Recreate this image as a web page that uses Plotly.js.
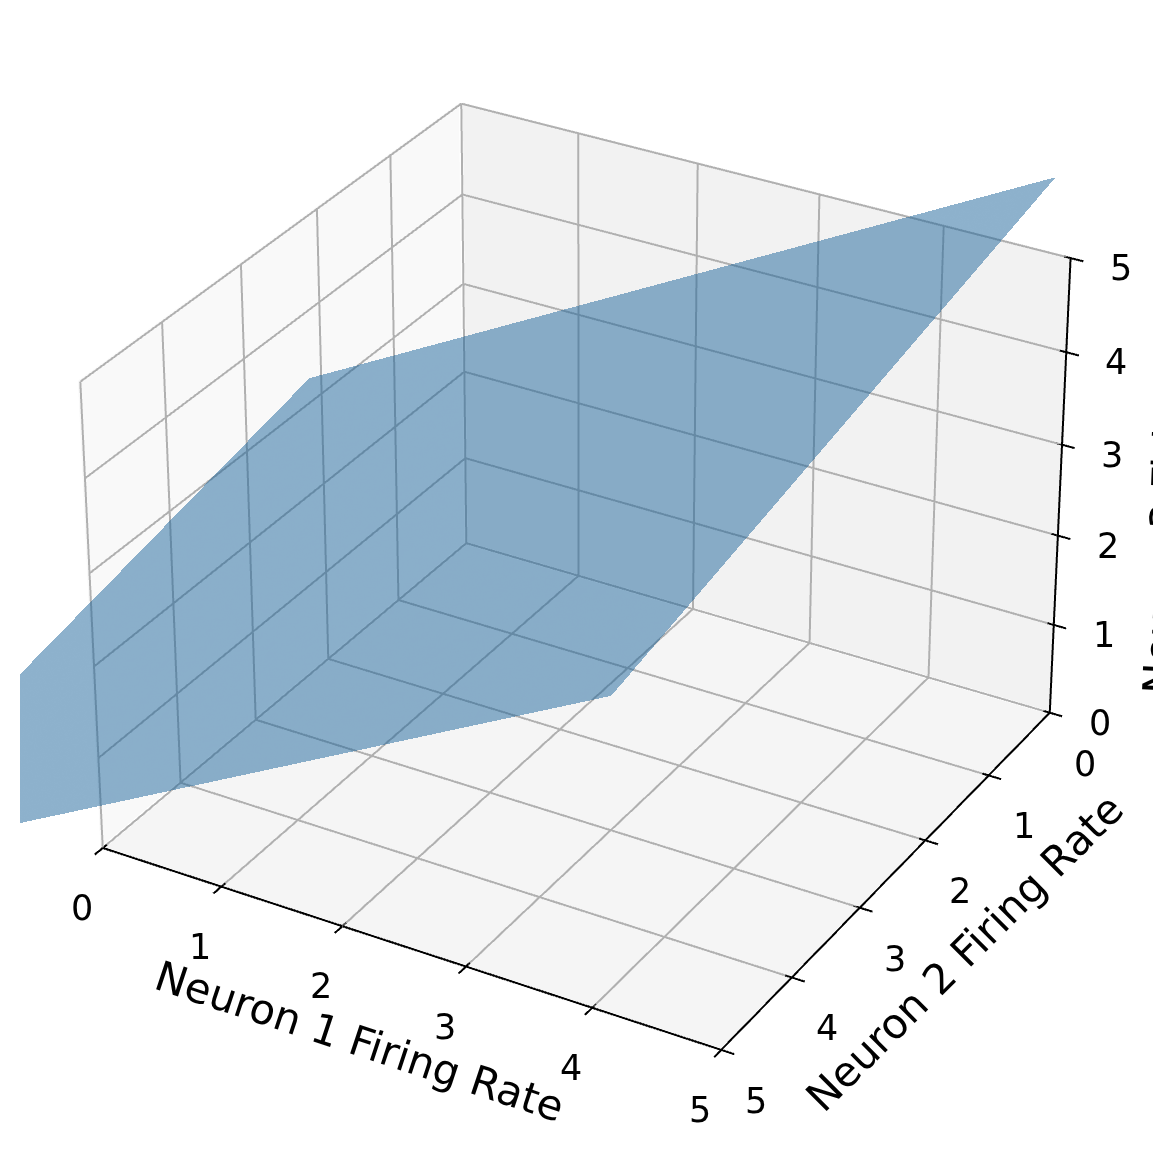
<!DOCTYPE html>
<html><head><meta charset="utf-8">
<script src="https://cdn.plot.ly/plotly-3.0.1.min.js"></script>
<style>
html,body{margin:0;padding:0;background:#fff;overflow:hidden;width:1153px;height:1150px}
#stage{position:absolute;left:20px;top:0;width:1133px;height:1150px;overflow:hidden}
#g{position:absolute}
</style></head><body><div id="stage"><div id="g"></div></div>
<script>
// Values
const tickValues=[0,1,2,3,4,5];
const neuron1=[0.625,6.31];
const neuron2=[3.12,8.80];
const neuron3=[[4.09,8.065],[2.95,6.92]]; // rows follow neuron2, columns follow neuron1
const xTitle='Neuron 1 Firing Rate', yTitle='Neuron 2 Firing Rate', zTitle='Neuron 3 Firing Rate';

const SIZE=4932, CX=585, CY=554;
const el=document.getElementById('g');
el.style.width=SIZE+'px';el.style.height=SIZE+'px';
el.style.left=(CX-20-SIZE/2)+'px';el.style.top=(CY-SIZE/2)+'px';

// Neuron 2 runs from 0 at the back to 5 at the front
const flip=v=>5-v;
const yPlot=neuron2.map(flip).reverse();
const zPlot=neuron3.slice().reverse();
const LO=0,HI=5;
const camera={eye:{x:4.33,y:-7.5,z:5},center:{x:0,y:0,z:0},up:{x:0,y:0,z:1},projection:{type:'perspective'}};
const hidden={visible:false,showspikes:false,range:[-4.5,9.5]};

function lines(segs,color,width){
  const x=[],y=[],z=[];
  segs.forEach(s=>{x.push(s[0],s[3],null);y.push(s[1],s[4],null);z.push(s[2],s[5],null);});
  return {type:'scatter3d',mode:'lines',x,y,z,line:{color,width},hoverinfo:'skip',showlegend:false};
}
const grid=[],axes=[];
tickValues.forEach(t=>{
  if(t!==HI) grid.push([t,LO,LO,t,HI,LO],[t,HI,LO,t,HI,HI]);
  if(t!==LO) grid.push([LO,t,LO,HI,t,LO]);
  grid.push([LO,t,LO,LO,t,HI]);
  grid.push([LO,LO,t,LO,HI,t],[LO,HI,t,HI,HI,t]);
  axes.push([t,LO-0.1,LO,t,LO+0.05,LO],[HI+0.1,t,LO,HI-0.05,t,LO],[HI+0.1,HI,t,HI-0.05,HI,t]);
});
axes.push([LO,LO,LO,HI,LO,LO],[HI,LO,LO,HI,HI,LO],[HI,HI,LO,HI,HI,HI]);
const off=0.02;
function wall(x,y,z,color){return {type:'mesh3d',x,y,z,i:[0,0],j:[1,2],k:[2,3],color,opacity:1,flatshading:true,
  lighting:{ambient:1,diffuse:0,specular:0,roughness:1,fresnel:0},hoverinfo:'skip',showscale:false};}
const traces=[
 wall([-off,-off,-off,-off],[0,5,5,0],[0,0,5,5],'#f9f9f9'),
 wall([0,5,5,0],[5+off,5+off,5+off,5+off],[0,0,5,5],'#f2f2f2'),
 wall([0,5,5,0],[0,0,5,5],[-off,-off,-off,-off],'#f5f5f5'),
 lines(grid,'#b0b0b0',4),
 lines(axes,'#000000',4),
 {type:'surface',x:neuron1,y:yPlot,z:zPlot,showscale:false,opacity:0.5,
  colorscale:[[0,'rgb(28,100,154)'],[1,'rgb(28,100,154)']],hoverinfo:'skip',
  lighting:{ambient:1,diffuse:0,specular:0,roughness:1,fresnel:0}}
];
const tf={family:'DejaVu Sans',size:35,color:'#000'};
const ttf={family:'DejaVu Sans',size:41.7,color:'#000'};
function note(x,y,z,text,dx,dy,font,angle){return {x,y,z,text,xshift:dx,yshift:-dy,font,textangle:angle||0,showarrow:false,xanchor:'center',yanchor:'middle'};}
const ann=[];
tickValues.forEach(t=>{
  ann.push(note(t,LO,LO,String(t),-21,60,tf));
  ann.push(note(HI,flip(t),LO,String(t),35,51,tf));
  ann.push(note(HI,HI,t,String(t),50,10,tf));
});
ann.push(note(2.5,LO,LO,xTitle,-44,95,ttf,18.3));
ann.push(note(HI,2.5,LO,yTitle,72,79,ttf,-45));
ann.push(note(HI,HI,2.5,zTitle,107,-10,ttf,-87.5));
const layout={width:SIZE,height:SIZE,margin:{l:0,r:0,t:0,b:0},paper_bgcolor:'rgba(0,0,0,0)',showlegend:false,
 scene:{domain:{x:[0,1],y:[0,1]},camera,aspectmode:'manual',aspectratio:{x:3.332,y:3.332,z:2.499},bgcolor:'rgba(0,0,0,0)',
  xaxis:hidden,yaxis:hidden,zaxis:hidden,annotations:ann}};
Plotly.newPlot(el,traces,layout,{displayModeBar:false,responsive:false,plotGlPixelRatio:1});
</script></body></html>
